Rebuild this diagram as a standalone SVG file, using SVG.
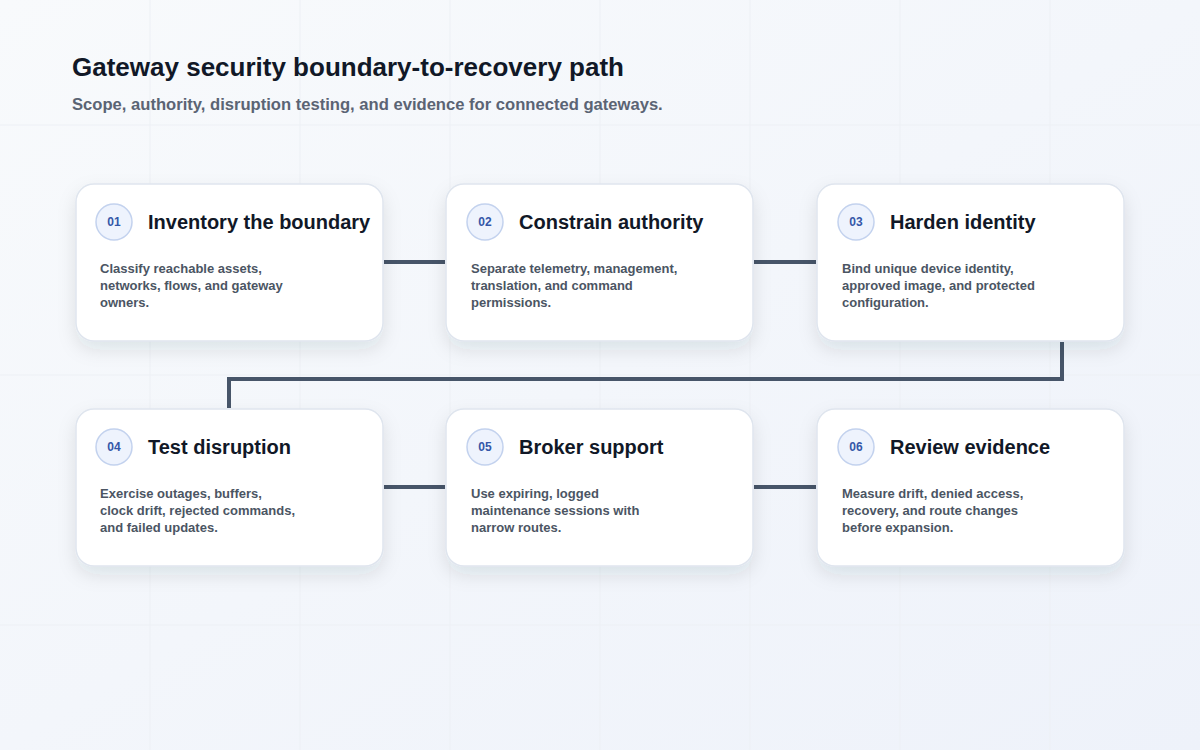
<svg xmlns="http://www.w3.org/2000/svg" width="1200" height="750" viewBox="0 0 1200 750">
<defs>
<linearGradient id="bg" x1="0" y1="0" x2="1" y2="1"><stop offset="0" stop-color="#f8fafc"/><stop offset="1" stop-color="#eef2fa"/></linearGradient>
<filter id="sh" x="-20%" y="-20%" width="140%" height="150%"><feDropShadow dx="0" dy="8" stdDeviation="9" flood-color="#1e293b" flood-opacity="0.10"/></filter>
<style>
.card{fill:#fff;stroke:#dfe5ee;stroke-width:1.5;filter:url(#sh)}
.num{fill:#eef3fd;stroke:#c3d2ee;stroke-width:1.5}
.nt{font:bold 12px "Liberation Sans",Arial,sans-serif;fill:#3457a8;text-anchor:middle}
.tt{font:bold 20px "Liberation Sans",Arial,sans-serif;fill:#111827}
.bt{font:bold 13px "Liberation Sans",Arial,sans-serif;fill:#4b5563}
.c{fill:none;stroke:#475569;stroke-width:4}
.g{stroke:#edf0f5;stroke-width:1}
</style>
</defs>
<rect width="1200" height="750" fill="url(#bg)"/>
<g class="g"><line x1="150" y1="0" x2="150" y2="750"/><line x1="300" y1="0" x2="300" y2="750"/><line x1="450" y1="0" x2="450" y2="750"/><line x1="600" y1="0" x2="600" y2="750"/><line x1="750" y1="0" x2="750" y2="750"/><line x1="900" y1="0" x2="900" y2="750"/><line x1="1050" y1="0" x2="1050" y2="750"/><line x1="0" y1="125" x2="1200" y2="125"/><line x1="0" y1="375" x2="1200" y2="375"/><line x1="0" y1="625" x2="1200" y2="625"/></g>
<text x="72" y="76" style="font:bold 26px 'Liberation Sans',Arial,sans-serif;fill:#111827">Gateway security boundary-to-recovery path</text>
<text x="72" y="110" style="font:bold 16.6px 'Liberation Sans',Arial,sans-serif;fill:#5b6474">Scope, authority, disruption testing, and evidence for connected gateways.</text>
<g id="connectors">
<line class="c" x1="384" y1="262" x2="445" y2="262"/>
<line class="c" x1="754" y1="262" x2="816" y2="262"/>
<polyline class="c" points="1062,342 1062,379 229,379 229,408"/>
<line class="c" x1="384" y1="487" x2="445" y2="487"/>
<line class="c" x1="754" y1="487" x2="816" y2="487"/>
</g>
<g id="n1"><rect class="card" x="76" y="184" width="307" height="157" rx="18"/><circle class="num" cx="114" cy="222" r="18"/><text class="nt" x="114" y="226">01</text><text class="tt" x="148" y="229">Inventory the boundary</text><text class="bt" x="100" y="273">Classify reachable assets,</text><text class="bt" x="100" y="290">networks, flows, and gateway</text><text class="bt" x="100" y="307">owners.</text></g>
<g id="n2"><rect class="card" x="446" y="184" width="307" height="157" rx="18"/><circle class="num" cx="485" cy="222" r="18"/><text class="nt" x="485" y="226">02</text><text class="tt" x="519" y="229">Constrain authority</text><text class="bt" x="471" y="273">Separate telemetry, management,</text><text class="bt" x="471" y="290">translation, and command</text><text class="bt" x="471" y="307">permissions.</text></g>
<g id="n3"><rect class="card" x="817" y="184" width="307" height="157" rx="18"/><circle class="num" cx="856" cy="222" r="18"/><text class="nt" x="856" y="226">03</text><text class="tt" x="890" y="229">Harden identity</text><text class="bt" x="842" y="273">Bind unique device identity,</text><text class="bt" x="842" y="290">approved image, and protected</text><text class="bt" x="842" y="307">configuration.</text></g>
<g id="n4"><rect class="card" x="76" y="409" width="307" height="157" rx="18"/><circle class="num" cx="114" cy="447" r="18"/><text class="nt" x="114" y="451">04</text><text class="tt" x="148" y="454">Test disruption</text><text class="bt" x="100" y="498">Exercise outages, buffers,</text><text class="bt" x="100" y="515">clock drift, rejected commands,</text><text class="bt" x="100" y="532">and failed updates.</text></g>
<g id="n5"><rect class="card" x="446" y="409" width="307" height="157" rx="18"/><circle class="num" cx="485" cy="447" r="18"/><text class="nt" x="485" y="451">05</text><text class="tt" x="519" y="454">Broker support</text><text class="bt" x="471" y="498">Use expiring, logged</text><text class="bt" x="471" y="515">maintenance sessions with</text><text class="bt" x="471" y="532">narrow routes.</text></g>
<g id="n6"><rect class="card" x="817" y="409" width="307" height="157" rx="18"/><circle class="num" cx="856" cy="447" r="18"/><text class="nt" x="856" y="451">06</text><text class="tt" x="890" y="454">Review evidence</text><text class="bt" x="842" y="498">Measure drift, denied access,</text><text class="bt" x="842" y="515">recovery, and route changes</text><text class="bt" x="842" y="532">before expansion.</text></g>
</svg>
